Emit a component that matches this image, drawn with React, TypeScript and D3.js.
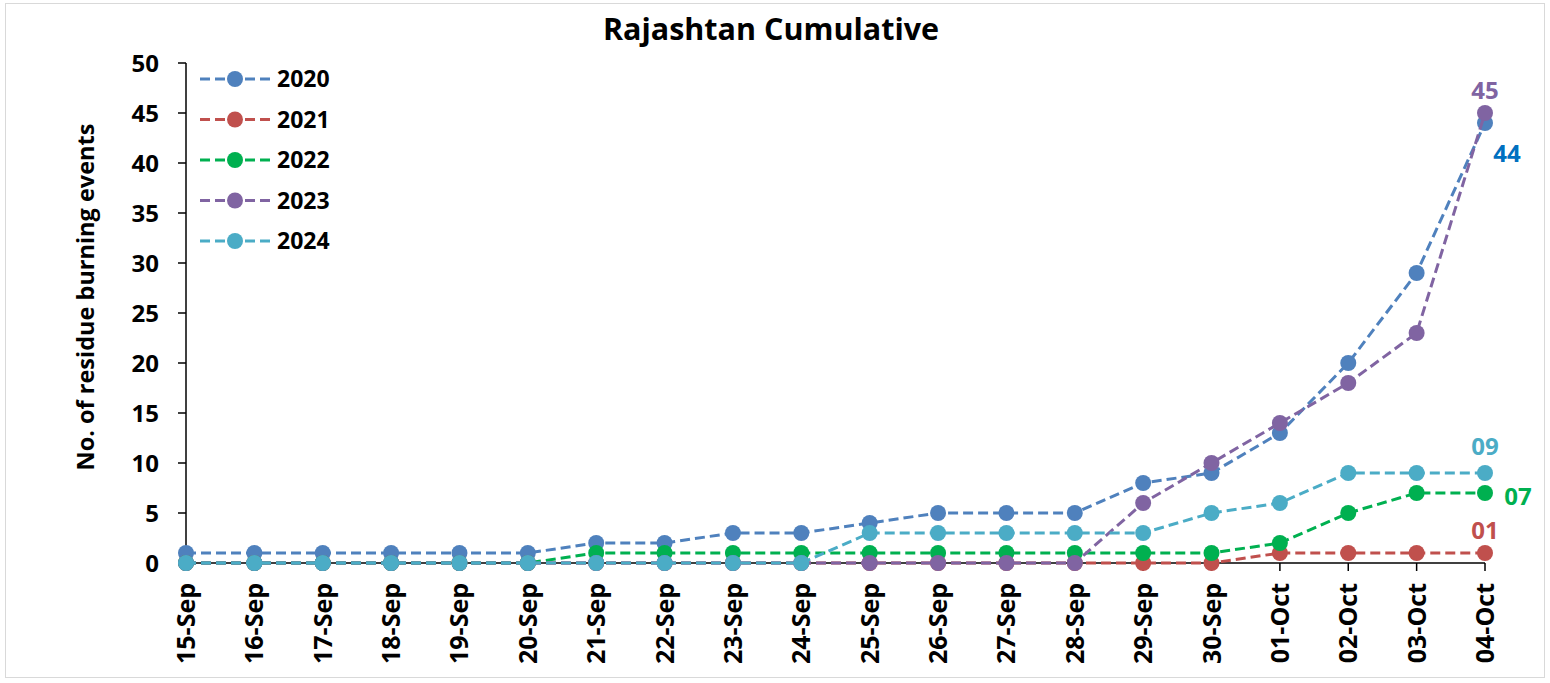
import React from "react";
import * as d3 from "d3";

const dates = [
  "15-Sep", "16-Sep", "17-Sep", "18-Sep", "19-Sep", "20-Sep", "21-Sep", "22-Sep", "23-Sep", "24-Sep",
  "25-Sep", "26-Sep", "27-Sep", "28-Sep", "29-Sep", "30-Sep", "01-Oct", "02-Oct", "03-Oct", "04-Oct"
];

const years = ["2020", "2021", "2022", "2023", "2024"];

const v2020 = [1, 1, 1, 1, 1, 1, 2, 2, 3, 3, 4, 5, 5, 5, 8, 9, 13, 20, 29, 44];
const v2021 = [0, 0, 0, 0, 0, 0, 0, 0, 0, 0, 0, 0, 0, 0, 0, 0, 1, 1, 1, 1];
const v2022 = [0, 0, 0, 0, 0, 0, 1, 1, 1, 1, 1, 1, 1, 1, 1, 1, 2, 5, 7, 7];
const v2023 = [0, 0, 0, 0, 0, 0, 0, 0, 0, 0, 0, 0, 0, 0, 6, 10, 14, 18, 23, 45];
const v2024 = [0, 0, 0, 0, 0, 0, 0, 0, 0, 0, 3, 3, 3, 3, 3, 5, 6, 9, 9, 9];

const seriesValues = [v2020, v2021, v2022, v2023, v2024];
const colors = ["#4F81BD", "#C0504D", "#00B050", "#8064A2", "#4BACC6"];

// end-of-line labels (text, series index, colour, offset)
const endLabels = [
  { text: "45", idx: 3, color: "#8064A2", dx: 0, dy: -23 },
  { text: "44", idx: 0, color: "#0070C0", dx: 22, dy: 30 },
  { text: "09", idx: 4, color: "#4BACC6", dx: 0, dy: -27 },
  { text: "07", idx: 2, color: "#00B050", dx: 33, dy: 3 },
  { text: "01", idx: 1, color: "#C0504D", dx: 0, dy: -23 }
];

const yTicks = [0, 5, 10, 15, 20, 25, 30, 35, 40, 45, 50];

const W = 1550;
const H = 683;
const left = 186;
const right = 1485;
const top = 63;
const bottom = 563;
const font = "'Open Sans', 'Noto Sans', sans-serif";

export default function App() {
  const x = d3.scalePoint<string>().domain(dates).range([left, right]);
  const y = d3.scaleLinear().domain([0, 50]).range([bottom, top]);

  const line = d3
    .line<number>()
    .x((_, i) => x(dates[i]) as number)
    .y((d) => y(d));

  return (
    <div style={{ position: "absolute", left: 0, top: 0 }}>
      <svg width={W} height={H} style={{ display: "block", background: "#fff" }}>
        <rect x={5.5} y={3.5} width={1539} height={674} fill="#fff" stroke="#d9d9d9" strokeWidth={1} />

        <text x={771} y={40} textAnchor="middle" fontFamily={font} fontWeight="bold" fontSize={30.5}>
          Rajashtan Cumulative
        </text>

        {/* y axis */}
        <line x1={left} x2={left} y1={top} y2={bottom} stroke="#000" strokeWidth={1.5} />
        {yTicks.map((t) => (
          <g key={t}>
            <line x1={left - 8} x2={left} y1={y(t)} y2={y(t)} stroke="#000" strokeWidth={1.5} />
            <text
              x={left - 27}
              y={y(t)}
              dy="0.36em"
              textAnchor="end"
              fontFamily={font}
              fontWeight="bold"
              fontSize={24}
            >
              {t}
            </text>
          </g>
        ))}
        <text
          transform={`translate(94, ${(top + bottom) / 2 - 16}) rotate(-90)`}
          textAnchor="middle"
          fontFamily={font}
          fontWeight="bold"
          fontSize={23.5}
        >
          No. of residue burning events
        </text>

        {/* x axis */}
        <line x1={left} x2={right} y1={bottom} y2={bottom} stroke="#000" strokeWidth={1.5} />
        {dates.map((d) => (
          <g key={d}>
            <line x1={x(d)} x2={x(d)} y1={bottom} y2={bottom + 8} stroke="#000" strokeWidth={1.5} />
            <text
              transform={`translate(${(x(d) as number) + 9}, ${bottom + 20}) rotate(-90)`}
              textAnchor="end"
              fontFamily={font}
              fontWeight="bold"
              fontSize={25}
            >
              {d}
            </text>
          </g>
        ))}

        {/* series */}
        {seriesValues.map((vals, si) => (
          <g key={years[si]}>
            <path
              d={line(vals) as string}
              fill="none"
              stroke={colors[si]}
              strokeWidth={3}
              strokeDasharray="10,5"
            />
            {vals.map((v, i) => (
              <circle key={i} cx={x(dates[i])} cy={y(v)} r={8} fill={colors[si]} />
            ))}
          </g>
        ))}

        {endLabels.map((l) => (
          <text
            key={l.text}
            x={(x(dates[dates.length - 1]) as number) + l.dx}
            y={y(seriesValues[l.idx][dates.length - 1]) + l.dy}
            dy="0.36em"
            textAnchor="middle"
            fontFamily={font}
            fontWeight="bold"
            fontSize={24}
            fill={l.color}
          >
            {l.text}
          </text>
        ))}

        {/* legend */}
        {years.map((yr, i) => {
          const ly = 79 + i * 40.5;
          return (
            <g key={yr}>
              <line x1={200} x2={270} y1={ly} y2={ly} stroke={colors[i]} strokeWidth={3} strokeDasharray="10,5" />
              <circle cx={235} cy={ly} r={8} fill={colors[i]} />
              <text x={277} y={ly} dy="0.36em" fontFamily={font} fontWeight="bold" fontSize={23}>
                {yr}
              </text>
            </g>
          );
        })}
      </svg>
    </div>
  );
}
